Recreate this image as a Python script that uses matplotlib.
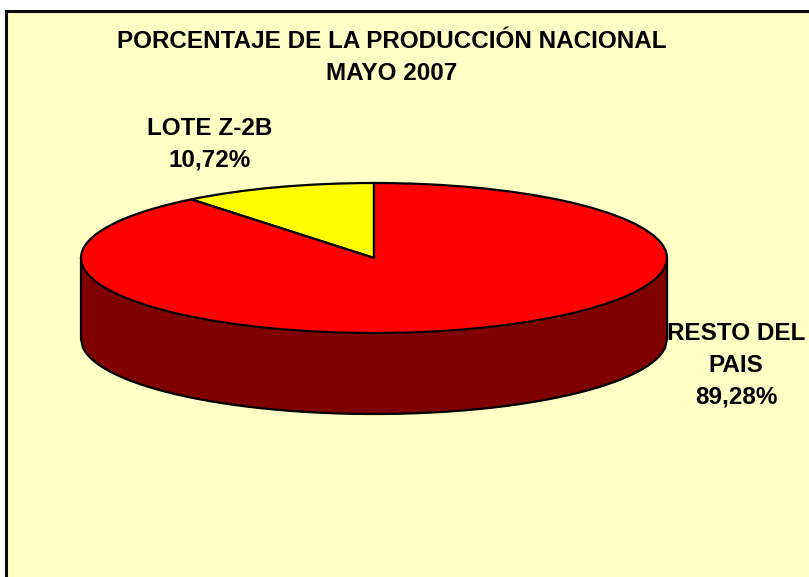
"""
Grafico de torta 3D: porcentaje de la produccion nacional
"""

import matplotlib
matplotlib.use("Agg")
import matplotlib.pyplot as plt
import numpy as np
from matplotlib.patches import Rectangle

plt.rcParams["font.family"] = ["Liberation Sans", "DejaVu Sans"]

categorias = ["LOTE Z-2B", "RESTO DEL\nPAIS"]
porcentajes = [10.72, 89.28]
colores = ["#FFFF00", "#FF0000"]
titulo = "PORCENTAJE DE LA PRODUCCIÓN NACIONAL\nMAYO 2007"

ANCHO, ALTO = 809, 577
CX, CY = 374, 258
RX, RY = 293, 75
PROF = 81 / RY

fig = plt.figure(figsize=(ANCHO / 100, ALTO / 100), dpi=100, facecolor="white")
ax = fig.add_axes([0, 0, 1, 1])

# ejes en unidades del radio, aplastados para que la torta quede eliptica
ax.pie(porcentajes, colors=colores, startangle=90, counterclock=True,
       wedgeprops={"edgecolor": "black", "linewidth": 1.6, "zorder": 3})
ax.set_aspect("auto")
ax.set_xlim(-CX / RX, (ANCHO - CX) / RX)
ax.set_ylim((CY - ALTO) / RY, CY / RY)
ax.axis("on")
ax.set_xticks([])
ax.set_yticks([])
for s in ax.spines.values():
    s.set_visible(False)
ax.set_facecolor("white")

# fondo con borde solo arriba e izquierda
fx = -CX / RX + 5 / RX
fy = (CY - 10) / RY
ax.add_patch(Rectangle((fx, (CY - ALTO) / RY), (ANCHO - 5) / RX, (ALTO - 10) / RY,
                       facecolor="#FFFFC6", edgecolor="none", zorder=0))
ax.plot([fx + 1 / RX, fx + 1 / RX, (ANCHO - CX) / RX], [(CY - ALTO) / RY, fy - 1 / RY, fy - 1 / RY],
        color="#0A0A0A", linewidth=2.2, solid_joinstyle="miter", zorder=1)

# lateral de la torta
t = np.linspace(-1, 1, 300)
sup = -np.sqrt(1 - t ** 2)
ax.fill_between(t, sup, sup - PROF, color="#800000", linewidth=0, zorder=2)
borde_x = np.concatenate([[-1], t, [1]])
borde_y = np.concatenate([[0], sup - PROF, [0]])
ax.plot(borde_x, borde_y, color="black", linewidth=1.6, zorder=2)


def texto(px, py, cadena, size=17.5):
    ax.text((px - CX) / RX, (CY - py) / RY, cadena, ha="center", va="center",
            fontsize=size, fontweight="bold", color="black", linespacing=1.49, zorder=5)


texto(392, 57.5, titulo)
texto(210, 144, f"{categorias[0]}\n{porcentajes[0]:.2f}%".replace(".", ","))
texto(736, 365.5, f"{categorias[1]}\n{porcentajes[1]:.2f}%".replace(".", ","))

fig.savefig("out.png", dpi=100, facecolor="white")
